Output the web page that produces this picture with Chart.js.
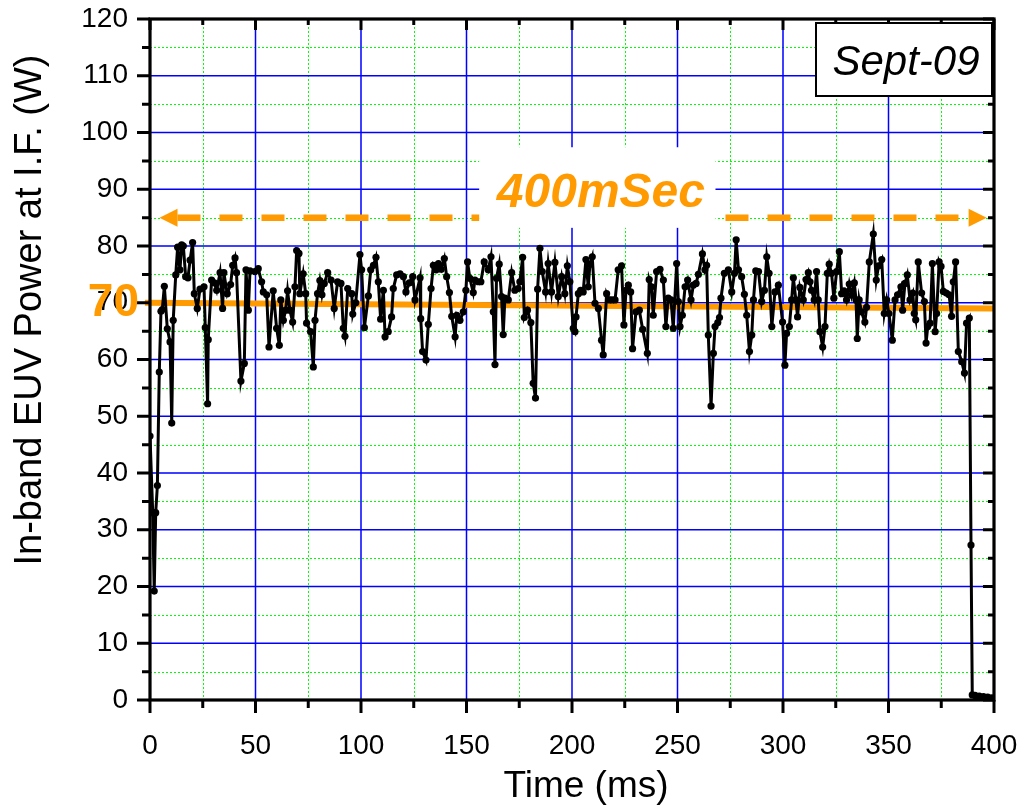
<!DOCTYPE html>
<html>
<head>
<meta charset="utf-8">
<script src="https://cdn.jsdelivr.net/npm/chart.js@4/dist/chart.umd.min.js"></script>
<style>
  html, body { margin: 0; padding: 0; background: #fff; }
  #wrap { width: 1028px; height: 807px; }
</style>
</head>
<body>
<div id="wrap"><canvas id="euv" width="1028" height="807"></canvas></div>
<script>
// pulse time (ms) and in-band power (W)
const timeMs = [
  0, 1.3, 2, 2.7, 3.5, 4.4, 5.2, 5.8, 6.8, 8.2, 9.5, 10.3, 11, 12.2, 13.1, 14.2, 15, 15.8, 16.9, 18,
  19, 20.2, 21, 22.4, 23.7, 25.6, 26.2, 27.3, 27.6, 29.2, 30.5, 31.6, 33.2, 34.4, 35, 36.6, 38.2, 39.2, 40.3, 41,
  43.1, 44.7, 45.5, 46.6, 47.4, 49.7, 51.3, 52.9, 53.7, 55.3, 56.4, 58.4, 60, 61.3, 62, 63.2, 64.3, 65.2, 66.3, 67.6,
  68.7, 69.5, 70.6, 71, 72.6, 73.8, 74.2, 76.1, 77.4, 78.2, 79.4, 80.5, 81.5, 82.6, 84.2, 85.8, 87.3, 88.9, 90.5, 91.6,
  92.4, 93.7, 95.6, 96.1, 97.5, 99.5, 100.3, 101.6, 103.5, 104.6, 105.9, 107.1, 108.2, 109.3, 110.6, 111.4, 112.9, 114.5, 115.3, 116.9,
  118.5, 120.1, 121.3, 122.9, 124.5, 125.6, 128, 128.3, 129.2, 130.8, 131.9, 133.2, 134.3, 135.6, 136.7, 138, 139.5, 140.6, 141.9, 143,
  144.6, 145.4, 146.9, 148.5, 149.7, 150.5, 151.6, 153.2, 154, 155.6, 156.8, 158.4, 160.3, 161.6, 162.7, 163.5, 164.2, 165.5, 166.6, 167.4,
  168.2, 169.8, 171.4, 172.9, 174.5, 175.3, 176.6, 177.4, 178.9, 180.5, 181.6, 182.7, 183.7, 184.8, 185.9, 187.5, 188.7, 190.3, 191.9, 193.5,
  195.1, 196.6, 197.8, 199, 200.6, 201.4, 201.9, 203, 204.1, 205.3, 206.6, 207.7, 208.5, 209.6, 210.9, 212.5, 214, 214.8, 216.4, 217.7,
  219, 220.4, 221.9, 223.5, 224.6, 225.6, 226.7, 227.8, 228.7, 230.3, 231.9, 233.5, 235.7, 236.6, 237.7, 238.5, 240.1, 241.7, 243.3, 244.5,
  245.6, 246.9, 248, 249.6, 250.4, 251.2, 252.3, 253.6, 254.8, 256.4, 257.5, 258.8, 259.9, 261.8, 263, 263.8, 264.6, 265.9, 267, 267.8,
  269.1, 269.9, 270.6, 272.2, 274.1, 275.7, 277, 277.8, 278.9, 280.4, 281.7, 282.8, 284.1, 285.2, 286, 287.1, 288.4, 289.9, 291.2, 292.3,
  293.4, 294.7, 296.2, 297.8, 299.8, 300.9, 301.7, 303, 304.1, 304.9, 306.1, 306.9, 308, 309.6, 310.9, 312, 312.8, 313.5, 314.8, 315.9,
  316.7, 317.5, 318.8, 319.9, 321, 321.9, 323, 324.1, 325.4, 326.7, 327.8, 328.9, 330.1, 331.4, 332.5, 333.8, 334.6, 335.2, 336.1, 337.2,
  338.8, 339.6, 340.9, 342.8, 344.2, 345.3, 346.8, 348, 349.1, 350.2, 351.8, 353.1, 354.3, 355.9, 356.7, 357.8, 358.9, 360.2, 361.5, 362.2,
  362.9, 364.1, 365.7, 367, 367.8, 368.6, 369.7, 370.8, 372.1, 372.8, 374, 374.9, 376, 377.4, 378.7, 379.9, 380.7, 381.8, 383.1, 384.7,
  386, 387, 388.3, 389.1, 389.7, 391, 393, 395, 397, 399
];
const powerW = [
  46.5, 33, 19.2, 33, 37.8, 57.8, 68.5, 68.8, 72.9, 65.4, 63.1, 48.8, 66.9, 74.9, 79.8, 75.8, 80.2, 80, 74.6, 74.4,
  77.5, 80.6, 71.6, 69, 72.4, 72.8, 65.6, 52.2, 63.5, 74, 73.5, 72.2, 75.3, 69, 75.3, 71.6, 73.2, 76.6, 77.9, 75.3,
  56.2, 59.3, 75.8, 68.7, 75.6, 75.5, 76, 73.7, 71.9, 71.4, 62.2, 72.1, 65.5, 62.5, 70.5, 66.9, 68.7, 72.1, 68.7, 66.6,
  72.8, 79.2, 78.7, 71.6, 75.1, 71.6, 66.4, 64.9, 58.7, 66.9, 71.6, 73.9, 71.4, 73.4, 75.3, 74, 69, 73.7, 73.4, 65.5,
  64.1, 72.5, 71.6, 68, 70, 78.5, 75.8, 65.6, 71.2, 75.8, 76.6, 78, 73.7, 67.1, 72.2, 64, 64.9, 67.5, 72.5, 74.9,
  75.1, 74.6, 71.9, 73.5, 74.6, 70.5, 74.4, 67.2, 61.4, 59.9, 66.2, 72.5, 76.6, 75.8, 76.9, 75.9, 77.8, 74.6, 71.8, 67.6,
  64, 67.8, 66.9, 68.4, 72.2, 77.2, 74.3, 71.8, 74, 73.7, 73.7, 77.2, 75.8, 78.1, 68.4, 59.1, 74.3, 76.8, 71.1, 64.4,
  70.8, 70.5, 75.3, 72.2, 72.5, 73.7, 78, 67.4, 68.7, 66.5, 55.8, 53.2, 72.4, 79.6, 75.5, 71.9, 76.9, 71.9, 77.1, 71.1,
  74.6, 71.6, 76.5, 73.7, 65.5, 64.9, 67.5, 71.6, 72.2, 71.9, 77.6, 72.8, 76.8, 78.1, 69.9, 69, 63.4, 60.8, 71.6, 70.5,
  70.5, 70.5, 75.8, 76.5, 66.1, 72.2, 73.1, 71.9, 61.9, 68.4, 68.7, 65.3, 61.1, 74.1, 72.8, 67.8, 75.5, 75.9, 74, 65.8,
  70.8, 70.5, 65.5, 76.9, 70.2, 65.8, 67.8, 72.8, 74, 70.5, 73.1, 73.4, 75, 78.6, 75.8, 76.6, 64.3, 51.8, 61.1, 65.8,
  66.5, 67.4, 70.8, 75.2, 75.8, 71.9, 75.2, 81.1, 75.8, 74.6, 71.5, 67.8, 61.4, 64.3, 70.5, 75.6, 75.5, 70.2, 72.2, 78.1,
  75.2, 65.8, 71.9, 73.1, 66.6, 59, 64.6, 65.8, 70.5, 74.4, 70.5, 67.5, 72.7, 70.5, 74.1, 75.3, 73.7, 72.2, 70.5, 75.5,
  70.5, 64.9, 62.2, 65.8, 75.2, 76.8, 75.2, 70.8, 75.5, 79, 71.6, 72.1, 70.5, 73.3, 71.3, 73.5, 70.5, 63.7, 70.5, 68.4,
  66.6, 69.2, 77.2, 82.1, 74, 76.5, 77.6, 68.1, 70.5, 68.1, 63.4, 70.5, 71.4, 72.8, 68.7, 73.4, 74.9, 70.5, 71.7, 68.1,
  67, 77.2, 71.7, 70.2, 62.9, 65.8, 66.4, 76.9, 64.9, 68.1, 77.2, 76.4, 72, 71.7, 71.4, 67.6, 73.7, 77.2, 61.4, 59.6,
  57.6, 66.4, 67.3, 27.3, 0.9, 0.8, 0.7, 0.6, 0.5, 0.4
];

// average level guide (W) and its end points (ms)
const levelX = [-2.4, 400];
const levelY = [70, 69];

// "400mSec" span arrow
const spanFrom = 4.5, spanTo = 396.5, spanLevel = 85;

const ORANGE = '#FF9A00';
const FONT = '"Liberation Sans", Arial, Helvetica, sans-serif';

const euvDecor = {
  id: 'euvDecor',
  beforeDatasetsDraw(chart) {
    const {ctx, chartArea: a, scales: {x, y}} = chart;
    ctx.save();
    // minor grid: green dotted
    ctx.strokeStyle = '#00FF00';
    ctx.lineWidth = 1;
    ctx.setLineDash([2, 2]);
    ctx.beginPath();
    for (let v = 25; v < 400; v += 50) {
      const px = Math.round(x.getPixelForValue(v)) + 0.5;
      ctx.moveTo(px, a.top); ctx.lineTo(px, a.bottom);
    }
    for (let v = 5; v < 120; v += 10) {
      const py = Math.round(y.getPixelForValue(v)) + 0.5;
      ctx.moveTo(a.left, py); ctx.lineTo(a.right, py);
    }
    ctx.stroke();
    // major grid: blue solid
    ctx.setLineDash([]);
    ctx.strokeStyle = '#0000FF';
    ctx.lineWidth = 1.5;
    ctx.beginPath();
    for (let v = 50; v < 400; v += 50) {
      const px = x.getPixelForValue(v);
      ctx.moveTo(px, a.top); ctx.lineTo(px, a.bottom);
    }
    for (let v = 10; v < 120; v += 10) {
      const py = y.getPixelForValue(v);
      ctx.moveTo(a.left, py); ctx.lineTo(a.right, py);
    }
    ctx.stroke();

    // white patch behind the span label
    const bx0 = x.getPixelForValue(156), bx1 = x.getPixelForValue(268);
    const by0 = y.getPixelForValue(97.4), by1 = y.getPixelForValue(83.2);
    ctx.fillStyle = '#fff';
    ctx.fillRect(bx0, by0, bx1 - bx0, by1 - by0);

    // dashed span arrow
    const ay = y.getPixelForValue(spanLevel);
    const ax0 = x.getPixelForValue(spanFrom), ax1 = x.getPixelForValue(spanTo);
    const head = 18;
    ctx.strokeStyle = ORANGE;
    ctx.lineWidth = 6.5;
    ctx.setLineDash([23, 19]);
    ctx.beginPath();
    ctx.moveTo(ax0 + head, ay); ctx.lineTo(bx0, ay);
    ctx.stroke();
    ctx.beginPath();
    ctx.moveTo(bx1 + 10, ay); ctx.lineTo(ax1 - head, ay);
    ctx.stroke();
    ctx.setLineDash([]);
    ctx.fillStyle = ORANGE;
    ctx.beginPath();
    ctx.moveTo(ax0, ay); ctx.lineTo(ax0 + head, ay - 9); ctx.lineTo(ax0 + head, ay + 9);
    ctx.closePath(); ctx.fill();
    ctx.beginPath();
    ctx.moveTo(ax1, ay); ctx.lineTo(ax1 - head, ay - 9); ctx.lineTo(ax1 - head, ay + 9);
    ctx.closePath(); ctx.fill();

    ctx.font = 'italic bold 48px ' + FONT;
    ctx.textAlign = 'center';
    ctx.textBaseline = 'alphabetic';
    ctx.fillText('400mSec', x.getPixelForValue(213.7), y.getPixelForValue(86.8));
    ctx.restore();
  },
  afterDraw(chart) {
    const {ctx, chartArea: a, scales: {x, y}} = chart;
    ctx.save();
    // ticks: outside on left/bottom, inside on top/right
    ctx.strokeStyle = '#000';
    ctx.lineWidth = 3;
    ctx.beginPath();
    for (let v = 0; v <= 400; v += 25) {
      const px = x.getPixelForValue(v);
      const major = v % 50 === 0;
      ctx.moveTo(px, a.bottom); ctx.lineTo(px, a.bottom + (major ? 13 : 8));
      ctx.moveTo(px, a.top); ctx.lineTo(px, a.top + (major ? 11 : 6));
    }
    for (let v = 0; v <= 120; v += 5) {
      const py = y.getPixelForValue(v);
      const major = v % 10 === 0;
      ctx.moveTo(a.left, py); ctx.lineTo(a.left - (major ? 13 : 8), py);
      ctx.moveTo(a.right, py); ctx.lineTo(a.right - (major ? 11 : 6), py);
    }
    ctx.stroke();
    // frame
    ctx.lineWidth = 3.2;
    ctx.strokeRect(a.left, a.top, a.right - a.left, a.bottom - a.top);

    // axis titles
    ctx.fillStyle = '#000';
    ctx.font = '37px ' + FONT;
    ctx.textAlign = 'center';
    ctx.textBaseline = 'alphabetic';
    ctx.fillText('Time (ms)', 586, 797);
    ctx.save();
    ctx.translate(31, 310);
    ctx.rotate(-Math.PI / 2);
    ctx.font = '38px ' + FONT;
    ctx.textBaseline = 'middle';
    ctx.fillText('In-band EUV Power at I.F. (W)', 0, 0);
    ctx.restore();

    // level label
    ctx.fillStyle = ORANGE;
    ctx.font = 'bold 46px ' + FONT;
    ctx.textAlign = 'right';
    ctx.textBaseline = 'middle';
    ctx.fillText('70', a.left - 11, y.getPixelForValue(70) + 1);

    // date box
    const dx = a.right - 178, dy = a.top + 4, dw = 176, dh = 73;
    ctx.fillStyle = '#fff';
    ctx.fillRect(dx, dy, dw, dh);
    ctx.lineWidth = 2;
    ctx.strokeStyle = '#000';
    ctx.strokeRect(dx, dy, dw, dh);
    ctx.fillStyle = '#000';
    ctx.font = 'italic 42px ' + FONT;
    ctx.textAlign = 'center';
    ctx.textBaseline = 'alphabetic';
    ctx.fillText('Sept-09', dx + dw / 2 + 2, dy + 52);
    ctx.restore();
  }
};

const powerPoints = timeMs.map((t, i) => ({x: t, y: powerW[i]}));
const levelPoints = levelX.map((t, i) => ({x: t, y: levelY[i]}));

new Chart(document.getElementById('euv').getContext('2d'), {
  type: 'line',
  data: {
    datasets: [{
      data: powerPoints,
      borderColor: '#000',
      borderWidth: 3,
      pointRadius: 3.6,
      pointBackgroundColor: '#000',
      pointBorderWidth: 0,
      tension: 0,
      order: 0,
    }, {
      data: levelPoints,
      borderColor: ORANGE,
      borderWidth: 6,
      pointRadius: 0,
      clip: false,
      order: 1,
    }],
  },
  options: {
    responsive: false,
    animation: false,
    layout: { padding: { top: 19, right: 34, left: 0, bottom: 0 } },
    plugins: { legend: { display: false }, tooltip: { enabled: false } },
    scales: {
      x: {
        type: 'linear',
        min: 0, max: 400,
        grid: { display: false },
        border: { display: false },
        ticks: { stepSize: 50, color: '#000', padding: 21, font: { family: FONT, size: 28 } },
        afterFit(scale) {
          scale.height = 107;
          scale.paddingLeft = 0;
          scale.paddingRight = 0;
        },
      },
      y: {
        min: 0, max: 120,
        grid: { display: false },
        border: { display: false },
        ticks: { stepSize: 10, color: '#000', padding: 14, font: { family: FONT, size: 28 } },
        afterFit(scale) {
          scale.width = 150;
          scale.paddingTop = 0;
          scale.paddingBottom = 0;
        },
      },
    },
  },
  plugins: [euvDecor],
});
</script>
</body>
</html>
